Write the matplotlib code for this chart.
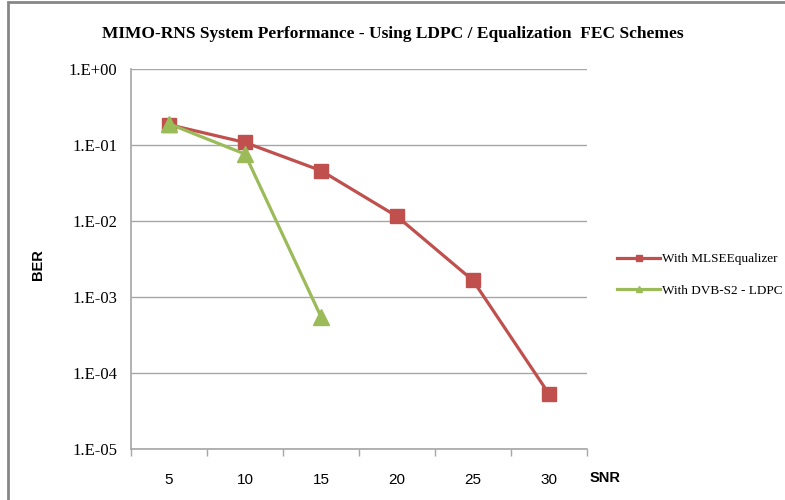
import numpy as np
import matplotlib.pyplot as plt
from matplotlib.lines import Line2D
from matplotlib.patches import Rectangle

# datos
snr = ["5", "10", "15", "20", "25", "30"]
ber_mlse = [0.185, 0.108, 0.046, 0.0115, 0.00165, 5.3e-5]
ber_ldpc = [0.19, 0.076, 5.5e-4]
y_ticks = [1e-5, 1e-4, 1e-3, 1e-2, 1e-1, 1e0]
y_labels = ["1.E-05", "1.E-04", "1.E-03", "1.E-02", "1.E-01", "1.E+00"]

rojo = "#C0504D"
verde = "#9BBB59"
gris = "#A6A6A6"
serif = "Liberation Serif"
sans = "Liberation Sans"

fig = plt.figure(figsize=(7.85, 5.0), dpi=100)
ax = fig.add_axes([131 / 785, 1 - 449 / 500, 456 / 785, 380 / 500])

x = np.arange(len(snr))
ax.plot(x, ber_mlse, color=rojo, lw=2.3, marker="s", ms=10,
        label="With MLSEEqualizer", zorder=3)
ax.plot(x[:len(ber_ldpc)], ber_ldpc, color=verde, lw=2.3, marker="^", ms=11,
        label="With DVB-S2 - LDPC", zorder=4)

ax.set_yscale("log")
ax.set_ylim(1e-5, 1e0)
ax.set_yticks(y_ticks)
ax.set_yticklabels(y_labels, family=serif, fontsize=12)
ax.yaxis.set_minor_locator(plt.NullLocator())
ax.tick_params(axis="y", length=0, pad=10)

ax.set_xlim(-0.5, len(snr) - 0.5)
ax.set_xticks(x)
ax.set_xticklabels(snr, family=sans, fontsize=11)
ax.set_xticks(np.arange(-0.5, len(snr)), minor=True)
ax.tick_params(axis="x", which="major", length=0, pad=17)
ax.tick_params(axis="x", which="minor", length=5, color=gris, width=1)

ax.grid(axis="y", color=gris, lw=1)
for s in ["top", "right"]:
    ax.spines[s].set_visible(False)
for s in ["left", "bottom"]:
    ax.spines[s].set_color(gris)
    ax.spines[s].set_linewidth(1.2)

fig.text(0.5, 1 - 34 / 500, "MIMO-RNS System Performance - Using LDPC / Equalization  FEC Schemes",
         ha="center", va="center", family=serif, fontweight="bold", fontsize=12.5)
fig.text(38 / 785, 1 - 265 / 500, "BER", rotation=90, ha="center", va="center",
         family=sans, fontweight="bold", fontsize=10.5)
fig.text(590 / 785, 1 - 478 / 500, "SNR", ha="left", va="center",
         family=sans, fontweight="bold", fontsize=10.5)

handles = [Line2D([], [], color=rojo, lw=2.3, marker="s", ms=5),
           Line2D([], [], color=verde, lw=2.3, marker="^", ms=5)]
fig.legend(handles, ["With MLSEEqualizer", "With DVB-S2 - LDPC"],
           loc="center left", bbox_to_anchor=(605 / 785, 1 - 275 / 500),
           frameon=False, prop={"family": serif, "size": 9.5},
           handlelength=3.3, handletextpad=0.1, labelspacing=1.45)

# borde del area del grafico
fig.patches.append(Rectangle((8 / 785, -0.1), 1.2, 1 - 2 / 500 + 0.1,
                             transform=fig.transFigure, fill=False,
                             edgecolor="#868686", lw=2))

fig.savefig("out.png", dpi=100)
